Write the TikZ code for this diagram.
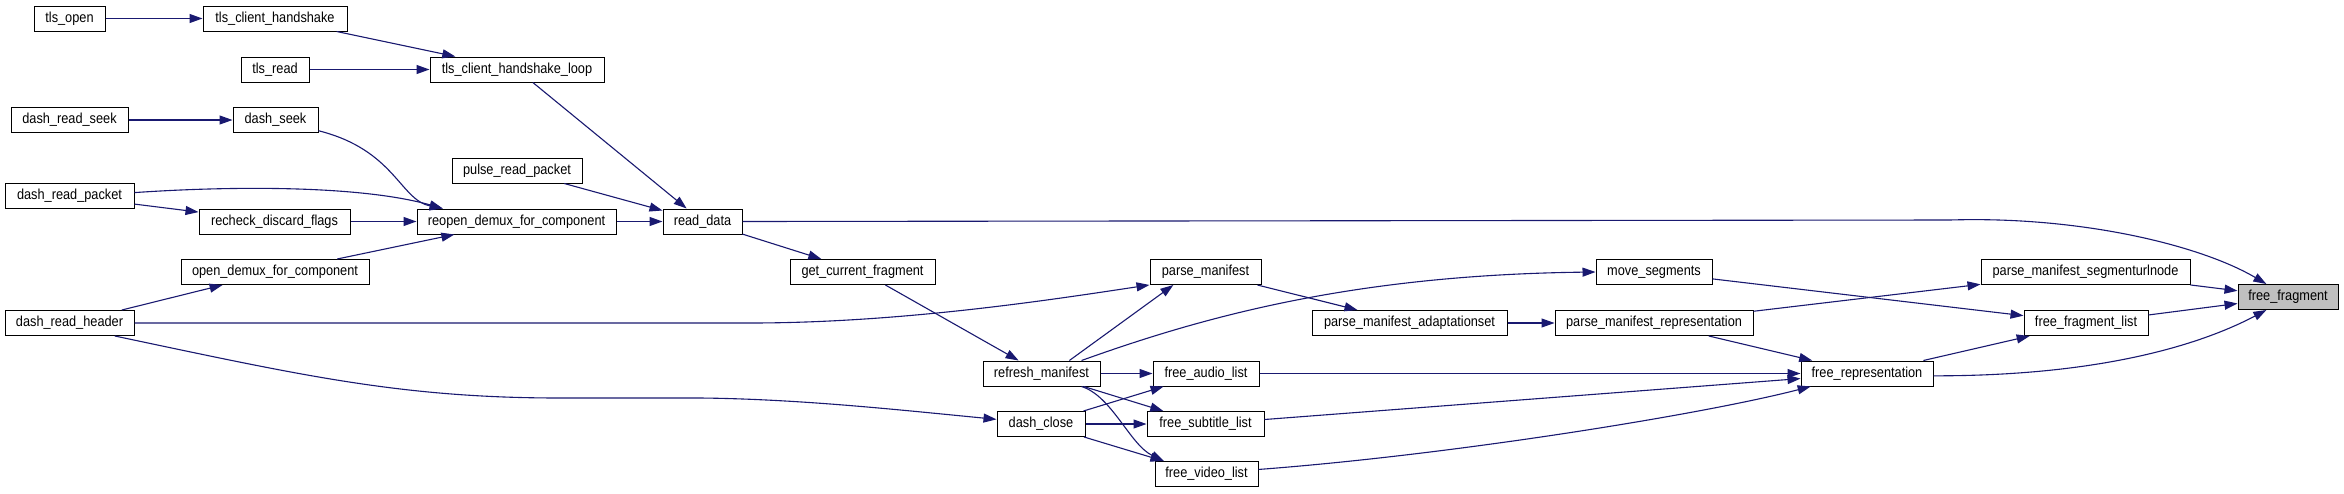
\documentclass[tikz,border=0pt]{standalone}
\usepackage{fontspec}
\setmainfont{Liberation Sans}[FakeStretch=0.88]
\usetikzlibrary{arrows.meta}
\definecolor{edgec}{HTML}{191970}
\definecolor{hlgray}{HTML}{BFBFBF}
\begin{document}
\begin{tikzpicture}[x=1pt,y=-1pt,
  fn/.style={draw=black, fill=white, line width=1pt, minimum height=25pt, inner sep=0pt,
             font=\fontsize{14.5}{16}\selectfont},
  fnsel/.style={fn, fill=hlgray},
  call/.style={draw=edgec, line width=1.1pt, -{Triangle[length=13pt,width=9pt]}}]
\fill[white] (0,0) rectangle (2344,493);
\useasboundingbox (0,0) rectangle (2344,493);

% nodes
\node[fn,minimum width=71pt]  (tlsopen)  at (69.5,18.5)  {tls\_open};
\node[fn,minimum width=144pt] (tch)      at (275,18.5)   {tls\_client\_handshake};
\node[fn,minimum width=68pt]  (tlsread)  at (275,69.5)   {tls\_read};
\node[fn,minimum width=174pt] (tchl)     at (517,69.5)   {tls\_client\_handshake\_loop};
\node[fn,minimum width=117pt] (drs)      at (69.5,120)   {dash\_read\_seek};
\node[fn,minimum width=85pt]  (dseek)    at (275.5,120)  {dash\_seek};
\node[fn,minimum width=130pt] (pulse)    at (517,170.5)  {pulse\_read\_packet};
\node[fn,minimum width=129pt] (drp)      at (69.5,196)   {dash\_read\_packet};
\node[fn,minimum width=151pt] (recheck)  at (274.5,221.5){recheck\_discard\_flags};
\node[fn,minimum width=199pt] (reopen)   at (516.5,221.5){reopen\_demux\_for\_component};
\node[fn,minimum width=79pt]  (readdata) at (702.5,221.5){read\_data};
\node[fn,minimum width=188pt] (opendemux) at (275,272)   {open\_demux\_for\_component};
\node[fn,minimum width=129pt] (drh)      at (69.5,323)   {dash\_read\_header};
\node[fn,minimum width=145pt] (gcf)      at (862.5,272)  {get\_current\_fragment};
\node[fn,minimum width=111pt] (pm)       at (1205.5,272) {parse\_manifest};
\node[fn,minimum width=195pt] (pma)      at (1409.5,323) {parse\_manifest\_adaptationset};
\node[fn,minimum width=117pt] (refresh)  at (1041.5,373.5){refresh\_manifest};
\node[fn,minimum width=106pt] (fal)      at (1206,373.5) {free\_audio\_list};
\node[fn,minimum width=88pt]  (dclose)   at (1041,424)   {dash\_close};
\node[fn,minimum width=117pt] (fsl)      at (1205.5,424) {free\_subtitle\_list};
\node[fn,minimum width=103pt] (fvl)      at (1206.5,474) {free\_video\_list};
\node[fn,minimum width=116pt] (moveseg)  at (1654,272)   {move\_segments};
\node[fn,minimum width=209pt] (pmsu)     at (2085.5,272) {parse\_manifest\_segmenturlnode};
\node[fn,minimum width=198pt] (pmr)      at (1654,323)   {parse\_manifest\_representation};
\node[fn,minimum width=124pt] (ffl)      at (2086,323)   {free\_fragment\_list};
\node[fnsel,minimum width=100pt] (ff)    at (2288,297)   {free\_fragment};
\node[fn,minimum width=132pt] (frep)     at (1867,373.5) {free\_representation};

% edges
\draw[call] (tlsopen) -- (tch);
\draw[call] (tch) -- (tchl);
\draw[call] (tlsread) -- (tchl);
\draw[call] (tchl) -- (readdata);
\draw[call] (drs) -- (dseek);
\draw[call] (dseek.-14) .. controls (395,150) and (400,200) .. (reopen.170);
\draw[call] (pulse) -- (readdata);
\draw[call] (drp.3) .. controls (230,186) and (360,185) .. (reopen.170);
\draw[call] (drp) -- (recheck);
\draw[call] (recheck) -- (reopen);
\draw[call] (reopen) -- (readdata);
\draw[call] (opendemux) -- (reopen);
\draw[call] (drh) -- (opendemux);
\draw[call] (drh.east) -- (750,323) .. controls (900,323) and (1050,300) .. (pm.193);
\draw[call] (drh.-16) .. controls (300,375) and (400,398) .. (560,398) -- (700,398)
            .. controls (800,399) and (900,410) .. (dclose.174);
\draw[call] (readdata.east) -- (1950,220) .. controls (2080,216) and (2200,245) .. (ff.149);
\draw[call] (readdata) -- (gcf);
\draw[call] (gcf) -- (refresh);
\draw[call] (refresh.25) -- (pm.202);
\draw[call] (refresh.18) .. controls (1200,318) and (1350,275) .. (moveseg.west);
\draw[call] (refresh) -- (fal);
\draw[call] (refresh) -- (fsl);
\draw[call] (refresh.-18) .. controls (1112,396) and (1130,445) .. (fvl.163);
\draw[call] (dclose) -- (fal);
\draw[call] (dclose) -- (fsl);
\draw[call] (dclose) -- (fvl);
\draw[call] (pm) -- (pma);
\draw[call] (pma) -- (pmr);
\draw[call] (pmr) -- (pmsu);
\draw[call] (pmr) -- (frep);
\draw[call] (moveseg) -- (ffl);
\draw[call] (fal) -- (frep);
\draw[call] (fsl) -- (frep);
\draw[call] (fvl.5) .. controls (1450,455) and (1700,415) .. (frep.193);
\draw[call] (frep) -- (ffl);
\draw[call] (frep.-2) .. controls (2100,376) and (2200,345) .. (ff.211);
\draw[call] (pmsu) -- (ff);
\draw[call] (ffl) -- (ff);
\end{tikzpicture}
\end{document}
